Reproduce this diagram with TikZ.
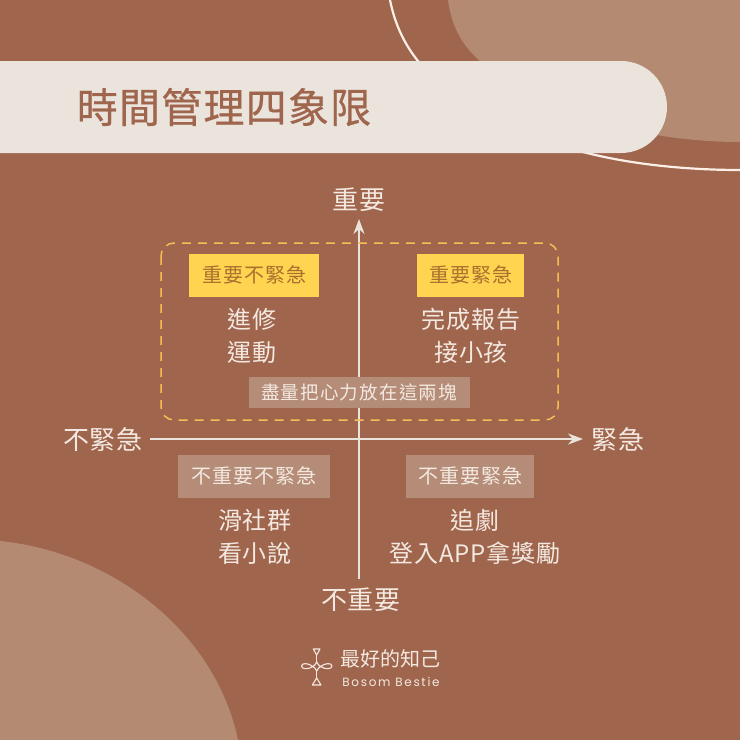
\documentclass[tikz,border=0pt]{standalone}
\usepackage{fontspec}
\setmainfont{Noto Sans CJK TC}
\newfontfamily\logoen[LetterSpace=14]{Poppins}
\definecolor{bgc}{HTML}{A0654D}
\definecolor{blob}{HTML}{B58A72}
\definecolor{cream}{HTML}{EAE4DD}
\definecolor{lineW}{HTML}{FBEFE6}
\definecolor{ink}{HTML}{F3E9E1}
\definecolor{yel}{HTML}{FFD450}
\definecolor{yelink}{HTML}{A8702F}
\definecolor{dashc}{HTML}{F7BE55}
\definecolor{titleink}{HTML}{A0654D}
\definecolor{tagc}{HTML}{B58C77}
\usetikzlibrary{arrows.meta}
\tikzset{
 x=1pt,y=-1pt,
 axislbl/.style={font=\fontsize{26}{26}\selectfont\addfontfeature{LetterSpace=3.5},text=ink,inner sep=0pt},
 itemlbl/.style={font=\fontsize{24}{32.5}\selectfont\addfontfeature{LetterSpace=4},text=ink,inner sep=0pt,align=center},
 yeltag/.style={fill=yel,text=yelink,font=\fontsize{20}{20}\selectfont\addfontfeature{LetterSpace=5},inner sep=0pt,minimum height=43pt},
 browntag/.style={fill=tagc,text=ink,font=\fontsize{20}{20}\selectfont\addfontfeature{LetterSpace=5},inner sep=0pt,minimum height=43pt},
 axisline/.style={draw=cream,line width=1.6pt,-{Stealth[length=15pt,width=11pt]}},
 logoline/.style={draw=ink,line width=1.1pt,line join=round},
}
\begin{document}
\begin{tikzpicture}
\useasboundingbox (0,0) rectangle (740,740);
\fill[bgc] (0,0) rectangle (740,740);
% blobs
\fill[blob] (448,0) .. controls (452,30) and (465,48) .. (480,61) .. controls (530,110) and (640,142) .. (740,142) -- (740,0) -- cycle;
\fill[blob] (0,541) .. controls (110,552) and (215,630) .. (238,740) -- (0,740) -- cycle;
\draw[lineW,line width=2.2pt] (390,0) .. controls (395,25) and (405,45) .. (418,61) .. controls (460,110) and (530,140) .. (587,153) .. controls (635,165) and (690,170) .. (740,170);
% banner
\fill[cream,rounded corners=46pt] (-100,61) rectangle (667,153);
\node[inner sep=0pt,text=titleink,font=\fontsize{41}{42}\selectfont\addfontfeature{LetterSpace=3,FakeBold=0.6}] (title) at (224,107) {時間管理四象限};
% axis labels
\node[axislbl] (top) at (359,200) {重要};
\node[axislbl] (bot) at (361,600) {不重要};
\node[axislbl] (lft) at (103,440) {不緊急};
\node[axislbl] (rgt) at (618,440) {緊急};
% axes
\coordinate (vb) at (359,579);
\coordinate (vt) at (359,219);
\coordinate (hl) at (150,439);
\coordinate (hr) at (583,439);
\draw[axisline] (vb) -- (vt);
\draw[axisline] (hl) -- (hr);
% dashed frame
\draw[dashc,line width=1.5pt,dash pattern=on 9pt off 7pt,rounded corners=13pt] (161,243) rectangle (558,420);
% quadrants
\node[yeltag,minimum width=130pt] (q1) at (254,275) {重要不緊急};
\node[yeltag,minimum width=107pt] (q2) at (470.5,275) {重要緊急};
\node[browntag,minimum width=152pt] (q3) at (254,476) {不重要不緊急};
\node[browntag,minimum width=128pt] (q4) at (470,476) {不重要緊急};
\node[itemlbl] (i1) at (252,336) {進修\\運動};
\node[itemlbl] (i2) at (471,336) {完成報告\\接小孩};
\node[itemlbl] (i3) at (255,537) {滑社群\\看小說};
\node[itemlbl] (i4) at (475,537) {追劇\\登入APP拿獎勵};
\node[fill=tagc,text=ink,font=\fontsize{18.5}{19}\selectfont\addfontfeature{LetterSpace=6.5},inner sep=0pt,minimum width=221pt,minimum height=31pt] (note) at (359,392.5) {盡量把心力放在這兩塊};
% logo
\node[inner sep=0pt,text=ink,font=\fontsize{20}{20}\selectfont] (logo) at (390,659) {最好的知己};
\node[inner sep=0pt,text=ink,font=\fontsize{12}{12}\selectfont\logoen] (logoenn) at (391,682) {Bosom Bestie};
\draw[logoline] (313.3,649) -- (320,649) -- (316.7,655) -- cycle;
\draw[logoline] (312.3,685) -- (321,685) -- (316.7,678) -- cycle;
\draw[logoline] (316.7,655) -- (316.7,662);
\draw[logoline] (316.7,671) -- (316.7,678);
\draw[logoline] (316.7,662) .. controls (316,664) and (314,666) .. (312.7,666.5) .. controls (314,667) and (316,669) .. (316.7,671) .. controls (317.4,669) and (319.4,667) .. (320.7,666.5) .. controls (319.4,666) and (317.4,664) .. (316.7,662) -- cycle;
\draw[logoline] (312.7,666.5) .. controls (309,663) and (301.5,662.5) .. (301.5,666) .. controls (301.5,669.5) and (309,669.5) .. (312.7,666.5);
\draw[logoline] (320.7,666.5) .. controls (324.4,663) and (332,662.5) .. (332,666) .. controls (332,669.5) and (324.4,669.5) .. (320.7,666.5);
\end{tikzpicture}
\end{document}
